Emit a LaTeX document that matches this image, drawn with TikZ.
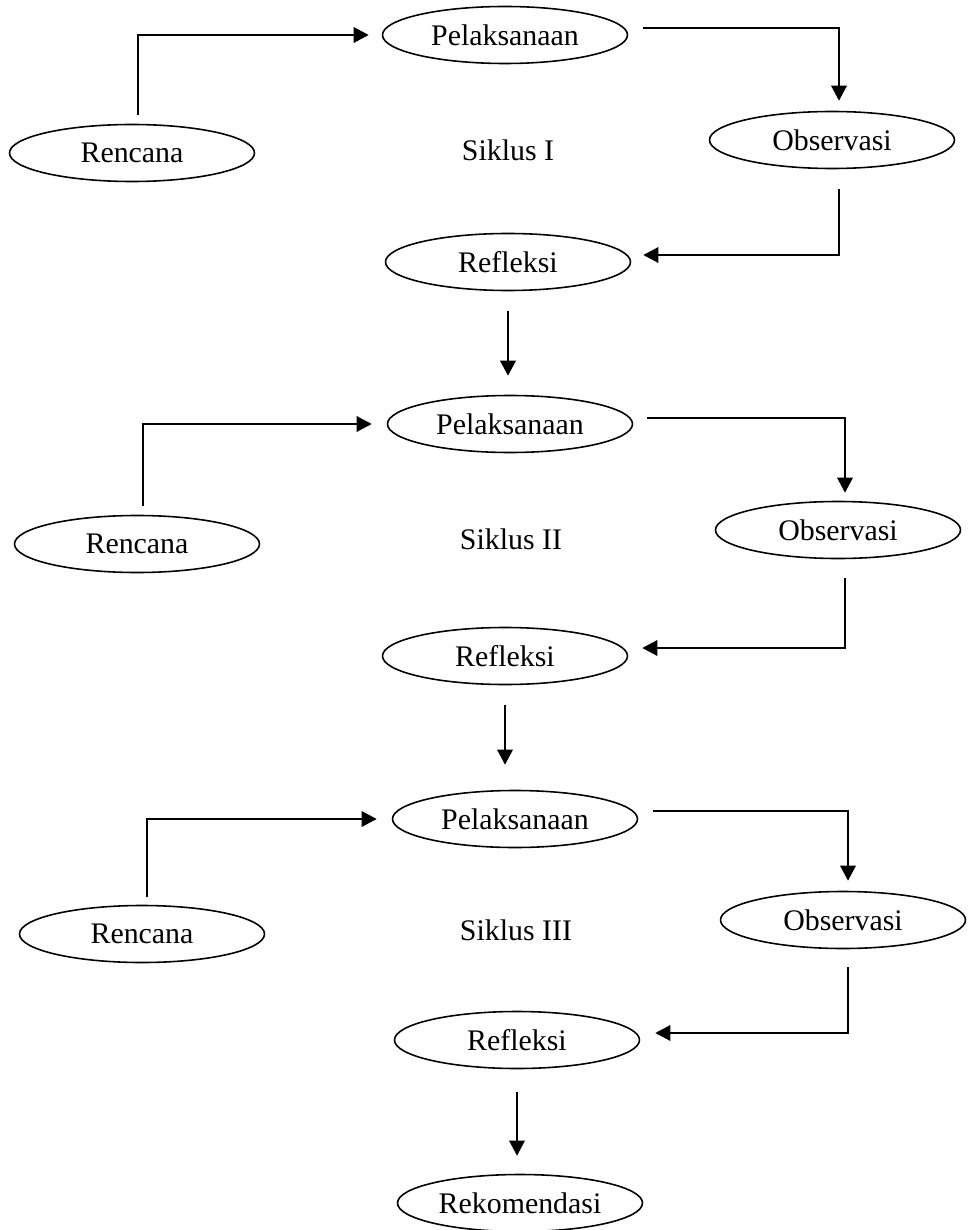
\documentclass[tikz,border=0pt]{standalone}
\usepackage{fontspec}
\setmainfont{Liberation Serif}
\usetikzlibrary{shapes.geometric}
\usetikzlibrary{arrows.meta}
\tikzstyle{stage}=[ellipse, draw, line width=0.9pt, minimum width=4.9cm, minimum height=1.14cm, inner sep=0pt, font=\fontsize{17}{20}\selectfont]
\tikzstyle{cycleLabel}=[font=\fontsize{17}{20}\selectfont]
\tikzstyle{stageTransition}=[line width=0.9pt, -{Triangle[length=3mm,width=3.1mm]}]

\begin{document}
\begin{tikzpicture}
  \useasboundingbox (0,0) rectangle (19.34,-24.6);

  % Nodes: Siklus I
  \node (pel1) at (10.10,-0.70) [stage] {Pelaksanaan};
  \node (ren1) at (2.64,-3.06) [stage] {Rencana};
  \node (obs1) at (16.64,-2.80) [stage] {Observasi};
  \node (ref1) at (10.16,-5.24) [stage] {Refleksi};
  \node (siklus1) at (10.16,-3.00) [cycleLabel] {Siklus I};

  % Nodes: Siklus II
  \node (pel2) at (10.20,-8.48) [stage] {Pelaksanaan};
  \node (ren2) at (2.74,-10.88) [stage] {Rencana};
  \node (obs2) at (16.76,-10.60) [stage] {Observasi};
  \node (ref2) at (10.10,-13.12) [stage] {Refleksi};
  \node (siklus2) at (10.22,-10.78) [cycleLabel] {Siklus II};

  % Nodes: Siklus III
  \node (pel3) at (10.30,-16.38) [stage] {Pelaksanaan};
  \node (ren3) at (2.84,-18.68) [stage] {Rencana};
  \node (obs3) at (16.86,-18.40) [stage] {Observasi};
  \node (ref3) at (10.34,-20.80) [stage] {Refleksi};
  \node (siklus3) at (10.32,-18.60) [cycleLabel] {Siklus III};

  \node (rek) at (10.40,-24.06) [stage] {Rekomendasi};

  % Transitions: Siklus I
  \draw[stageTransition, shorten <=0.18cm, shorten >=0.26cm] ([xshift=1.2mm]ren1.north) |- (pel1.west);
  \draw[stageTransition, shorten <=0.3cm, shorten >=0.2cm] ([yshift=1.4mm]pel1.east) -| ([xshift=1.4mm]obs1.north);
  \draw[stageTransition, shorten <=0.4cm, shorten >=0.24cm] ([xshift=1.4mm]obs1.south) |- ([yshift=1.4mm]ref1.east);
  \draw[stageTransition, shorten <=0.4cm, shorten >=0.38cm] (ref1.south) -- (ref1.south |- pel2.north);

  % Transitions: Siklus II
  \draw[stageTransition, shorten <=0.18cm, shorten >=0.3cm] ([xshift=1.2mm]ren2.north) |- (pel2.west);
  \draw[stageTransition, shorten <=0.28cm, shorten >=0.16cm] ([yshift=1.2mm]pel2.east) -| ([xshift=1.4mm]obs2.north);
  \draw[stageTransition, shorten <=0.38cm, shorten >=0.28cm] ([xshift=1.4mm]obs2.south) |- ([yshift=1.6mm]ref2.east);
  \draw[stageTransition, shorten <=0.4cm, shorten >=0.5cm] (ref2.south) -- (ref2.south |- pel3.north);

  % Transitions: Siklus III
  \draw[stageTransition, shorten <=0.16cm, shorten >=0.3cm] ([xshift=1mm]ren3.north) |- (pel3.west);
  \draw[stageTransition, shorten <=0.3cm, shorten >=0.2cm] ([yshift=1.6mm]pel3.east) -| ([xshift=1mm]obs3.north);
  \draw[stageTransition, shorten <=0.36cm, shorten >=0.3cm] ([xshift=1mm]obs3.south) |- ([yshift=1.4mm]ref3.east);
  \draw[stageTransition, shorten <=0.46cm, shorten >=0.36cm] (ref3.south) -- (ref3.south |- rek.north);

\end{tikzpicture}
\end{document}
